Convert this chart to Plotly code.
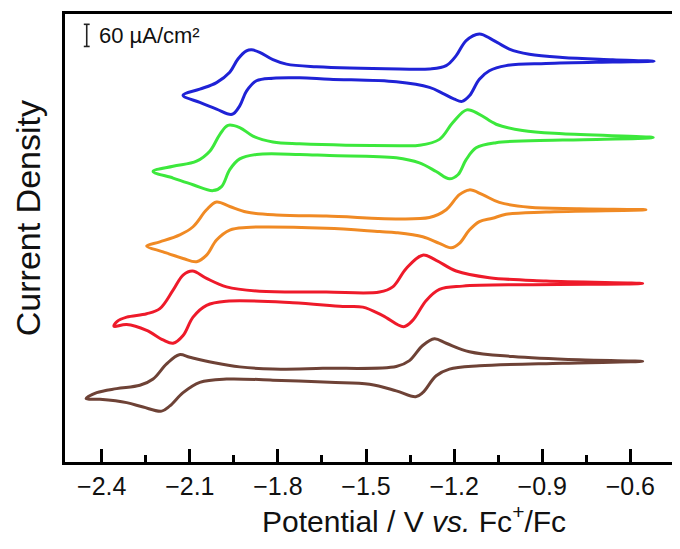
import plotly.graph_objects as go

# ---- data (potential in V vs Fc+/Fc, current density in µA/cm², offset stacked) ----
BLUE_X = [-0.519, -0.660, -0.887, -1.023, -1.080, -1.114, -1.148, -1.173, -1.199, -1.239, -1.284, -1.397,
          -1.624, -1.726, -1.817, -1.873, -1.907, -1.930, -1.956, -2.009, -2.066, -2.123, -2.066, -2.009,
          -1.964, -1.936, -1.907, -1.890, -1.862, -1.817, -1.771, -1.669, -1.386, -1.284, -1.227, -1.193,
          -1.159, -1.114, -1.069, -1.012, -0.944, -0.831, -0.660, -0.519]
BLUE_Y = [1070, 1068, 1064, 1058, 1044, 1021, 976, 961, 967, 983, 999, 1014,
          1021, 1025, 1024, 1017, 989, 949, 926, 940, 958, 978, 994, 1012,
          1040, 1076, 1098, 1101, 1094, 1074, 1062, 1055, 1049, 1049, 1058, 1085,
          1126, 1144, 1128, 1103, 1089, 1080, 1074, 1070]

GREEN_X = [-0.522, -0.831, -1.057, -1.125, -1.159, -1.187, -1.216, -1.261, -1.318, -1.397, -1.624, -1.726,
           -1.873, -1.930, -1.964, -1.992, -2.021, -2.089, -2.157, -2.225, -2.157, -2.077, -2.032, -1.998,
           -1.970, -1.930, -1.885, -1.817, -1.726, -1.386, -1.318, -1.250, -1.205, -1.157, -1.114, -1.057,
           -0.967, -0.831, -0.522]
GREEN_Y = [863, 856, 849, 835, 803, 762, 751, 771, 794, 808, 814, 817,
           817, 805, 776, 730, 719, 735, 753, 771, 785, 799, 826, 871,
           896, 890, 867, 851, 846, 841, 842, 858, 903, 938, 926, 899,
           882, 873, 863]

ORANGE_X = [-0.547, -0.887, -1.023, -1.069, -1.114, -1.148, -1.182, -1.210, -1.250, -1.307, -1.397, -1.454,
            -1.635, -1.907, -1.964, -2.009, -2.043, -2.077, -2.123, -2.191, -2.247, -2.202, -2.134, -2.089,
            -2.043, -2.009, -1.964, -1.907, -1.805, -1.635, -1.284, -1.227, -1.182, -1.148, -1.103, -1.046,
            -0.944, -0.774, -0.547]
ORANGE_Y = [667, 661, 655, 644, 635, 612, 576, 564, 576, 594, 605, 608,
            617, 619, 612, 585, 544, 526, 535, 553, 569, 580, 599, 621,
            667, 688, 676, 661, 653, 650, 646, 667, 708, 721, 708, 687,
            674, 670, 667]

RED_X = [-0.558, -0.944, -1.171, -1.250, -1.295, -1.341, -1.372, -1.443, -1.511, -1.579, -1.749, -1.975,
         -2.043, -2.089, -2.123, -2.157, -2.191, -2.247, -2.315, -2.358, -2.348, -2.315, -2.247, -2.202,
         -2.157, -2.123, -2.091, -2.043, -1.975, -1.862, -1.635, -1.454, -1.409, -1.363, -1.307, -1.261,
         -1.193, -1.080, -0.887, -0.558]
RED_Y = [467, 464, 460, 451, 421, 367, 350, 380, 403, 405, 415, 419,
         408, 376, 326, 305, 314, 340, 356, 351, 364, 376, 385, 399,
         449, 490, 501, 481, 458, 446, 444, 444, 458, 508, 544, 530,
         501, 483, 474, 467]

BROWN_X = [-0.558, -0.831, -1.114, -1.216, -1.261, -1.307, -1.331, -1.397, -1.488, -1.624, -1.817, -1.975,
           -2.066, -2.123, -2.168, -2.196, -2.259, -2.315, -2.406, -2.453, -2.417, -2.349, -2.270, -2.225,
           -2.179, -2.136, -2.100, -2.021, -1.930, -1.817, -1.647, -1.397, -1.352, -1.307, -1.267, -1.227,
           -1.148, -1.000, -0.774, -0.558]
BROWN_Y = [256, 251, 244, 235, 217, 171, 160, 176, 194, 199, 205, 208,
           199, 171, 135, 121, 132, 144, 153, 155, 171, 182, 191, 208,
           249, 274, 267, 253, 241, 235, 237, 242, 258, 299, 317, 305,
           282, 269, 260, 256]

TICK_VALUES = [-2.4, -2.1, -1.8, -1.5, -1.2, -0.9, -0.6]
TICK_LABELS = ["\u22122.4", "\u22122.1", "\u22121.8", "\u22121.5", "\u22121.2", "\u22120.9", "\u22120.6"]
MINOR_TICK_VALUES = [-2.25, -1.95, -1.65, -1.35, -1.05, -0.75]

SCALE_BAR_VALUE = 60          # µA/cm²
SCALE_BAR_X = -2.451
SCALE_BAR_BOTTOM = 1110
SCALE_BAR_LABEL = "60 µA/cm²"

X_RANGE = [-2.525, -0.424]
Y_RANGE = [-17, 1198]

X_TITLE = "Potential / V <i>vs.</i> Fc<sup>+</sup>/Fc"
Y_TITLE = "Current Density"

series = [
    (BLUE_X, BLUE_Y, "#1f22d6"),
    (GREEN_X, GREEN_Y, "#3ce83c"),
    (ORANGE_X, ORANGE_Y, "#f08a24"),
    (RED_X, RED_Y, "#ee1a2a"),
    (BROWN_X, BROWN_Y, "#6e4236"),
]

FONT = "Liberation Sans, Arial, Helvetica, sans-serif"

fig = go.Figure()
for xs, ys, col in series:
    fig.add_trace(go.Scatter(x=xs, y=ys, mode="lines",
                             line=dict(color=col, width=3, shape="spline", smoothing=1.0),
                             showlegend=False, hoverinfo="skip"))

# scale bar
cap = 0.010
bar_top = SCALE_BAR_BOTTOM + SCALE_BAR_VALUE
sb_line = dict(color="#222222", width=1.6)
fig.add_shape(type="line", xref="x", yref="y", x0=SCALE_BAR_X, x1=SCALE_BAR_X,
              y0=SCALE_BAR_BOTTOM, y1=bar_top, line=sb_line)
fig.add_shape(type="line", xref="x", yref="y", x0=SCALE_BAR_X - cap, x1=SCALE_BAR_X + cap,
              y0=SCALE_BAR_BOTTOM, y1=SCALE_BAR_BOTTOM, line=sb_line)
fig.add_shape(type="line", xref="x", yref="y", x0=SCALE_BAR_X - cap, x1=SCALE_BAR_X + cap,
              y0=bar_top, y1=bar_top, line=sb_line)
fig.add_annotation(x=SCALE_BAR_X + 0.034, y=SCALE_BAR_BOTTOM + SCALE_BAR_VALUE / 2,
                   xref="x", yref="y", text=SCALE_BAR_LABEL, showarrow=False,
                   xanchor="left", yanchor="middle",
                   font=dict(family=FONT, size=22, color="#111111"))

# axis titles (placed as annotations to match the reference offsets)
fig.add_annotation(x=0.566, y=-0.128, xref="paper", yref="paper", text=X_TITLE,
                   showarrow=False, xanchor="center", yanchor="middle",
                   font=dict(family=FONT, size=30, color="#111111"))
fig.add_annotation(x=-0.061, y=0.545, xref="paper", yref="paper", text=Y_TITLE,
                   showarrow=False, xanchor="center", yanchor="middle", textangle=-90,
                   borderpad=0,
                   font=dict(family=FONT, size=34, color="#111111"))

fig.update_layout(
    width=680, height=549,
    margin=dict(l=57, r=5, t=3, b=95),
    paper_bgcolor="white", plot_bgcolor="white",
    font=dict(family=FONT, color="#111111"),
)
fig.update_xaxes(
    range=X_RANGE, showgrid=False, zeroline=False,
    showline=True, mirror=True, linecolor="black", linewidth=3,
    tickmode="array", tickvals=TICK_VALUES, ticktext=TICK_LABELS,
    ticks="inside", ticklen=13, tickwidth=2.5, tickcolor="black",
    tickfont=dict(family=FONT, size=25, color="#111111"),
    minor=dict(tickmode="array", tickvals=MINOR_TICK_VALUES, ticks="inside",
               ticklen=7, tickwidth=2.5, tickcolor="black", showgrid=False),
)
fig.update_yaxes(
    range=Y_RANGE, showgrid=False, zeroline=False,
    showline=True, mirror=True, linecolor="black", linewidth=3,
    showticklabels=False, ticks="",
)

fig.write_html("out.html")
